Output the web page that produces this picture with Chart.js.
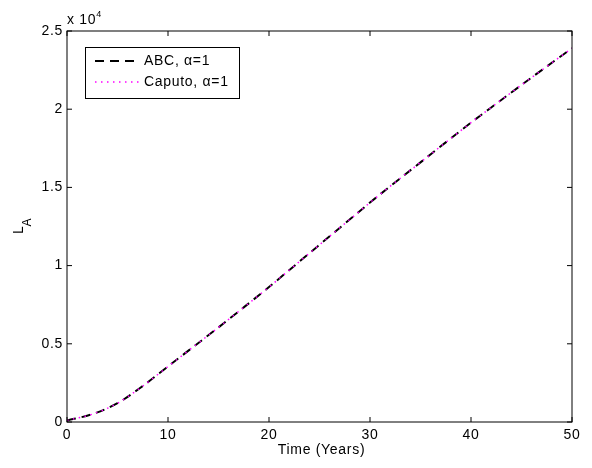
<!DOCTYPE html>
<html>
<head>
<meta charset="utf-8">
<script src="https://cdn.jsdelivr.net/npm/chart.js@4.4.0/dist/chart.umd.min.js"></script>
<style>
  html, body { margin: 0; padding: 0; background: #fff; }
</style>
</head>
<body>
<canvas id="chart" width="592" height="468"></canvas>
<script>
// data (L_A vs time)
const years = [0, 2.5, 5, 7.5, 10, 12.5, 15, 17.5, 20, 22.5, 25, 27.5, 30, 32.5, 35, 37.5, 40, 42.5, 45, 47.5, 50];
const abcLA = [100, 500, 1200, 2300, 3550, 4800, 6050, 7330, 8630, 9980, 11330, 12680, 14030, 15330, 16600, 17880, 19140, 20350, 21550, 22730, 23900];
const caputoLA = [100, 500, 1200, 2300, 3550, 4800, 6050, 7330, 8630, 9980, 11330, 12680, 14030, 15330, 16600, 17880, 19140, 20350, 21550, 22730, 23900];
const xTicks = [0, 10, 20, 30, 40, 50];
const yTicks = [0, 5000, 10000, 15000, 20000, 25000];
const seriesNames = ['ABC, \u03b1=1', 'Caputo, \u03b1=1'];

const FONT = 'Liberation Sans, Arial, Helvetica, sans-serif';
const SPACING = '0.7px';

function toPoints(xs, ys) {
  return xs.map((x, i) => ({ x: x, y: ys[i] }));
}

// box, inward ticks, axis titles, exponent and legend (MATLAB look)
const matlabFrame = {
  id: 'matlabFrame',
  beforeDraw(chart) {
    chart.ctx.letterSpacing = SPACING;
  },
  afterDraw(chart) {
    const ctx = chart.ctx;
    const a = chart.chartArea;
    const xs = chart.scales.x, ys = chart.scales.y;
    ctx.save();
    ctx.strokeStyle = '#000';
    ctx.lineWidth = 1;
    ctx.setLineDash([]);
    ctx.strokeRect(a.left, a.top, a.right - a.left, a.bottom - a.top);

    ctx.beginPath();
    xTicks.forEach(v => {
      const p = xs.getPixelForValue(v);
      ctx.moveTo(p, a.bottom); ctx.lineTo(p, a.bottom - 5);
      ctx.moveTo(p, a.top); ctx.lineTo(p, a.top + 5);
    });
    yTicks.forEach(v => {
      const p = ys.getPixelForValue(v);
      ctx.moveTo(a.left, p); ctx.lineTo(a.left + 5, p);
      ctx.moveTo(a.right, p); ctx.lineTo(a.right - 5, p);
    });
    ctx.stroke();

    ctx.fillStyle = '#000';
    ctx.letterSpacing = SPACING;

    // exponent label
    ctx.font = '14px ' + FONT;
    ctx.textAlign = 'left';
    ctx.textBaseline = 'alphabetic';
    ctx.fillText('x 10', a.left, 23.5);
    const w = ctx.measureText('x 10').width;
    ctx.font = '9px ' + FONT;
    ctx.fillText('4', a.left + w, 17);

    // x title
    ctx.font = '14px ' + FONT;
    ctx.textAlign = 'center';
    ctx.fillText('Time (Years)', (a.left + a.right) / 2 + 2, 453.5);

    // y title L_A
    ctx.save();
    ctx.translate(22.5, 234);
    ctx.rotate(-Math.PI / 2);
    ctx.textAlign = 'left';
    ctx.font = '14px ' + FONT;
    ctx.fillText('L', 0, 0);
    const lw = ctx.measureText('L').width;
    ctx.font = '12px ' + FONT;
    ctx.fillText('A', lw - 1, 8.5);
    ctx.restore();

    // legend
    const lx = 85.5, ly = 47.5, lwid = 154, lh = 51;
    ctx.fillStyle = '#fff';
    ctx.fillRect(lx, ly, lwid, lh);
    ctx.strokeStyle = '#000';
    ctx.lineWidth = 1;
    ctx.strokeRect(lx, ly, lwid, lh);

    const rows = [
      { y: 61, color: '#000', width: 2, dash: [9, 6] },
      { y: 82, color: '#ff00ff', width: 1.5, dash: [1.5, 4.5] }
    ];
    rows.forEach((r, i) => {
      ctx.beginPath();
      ctx.strokeStyle = r.color;
      ctx.lineWidth = r.width;
      ctx.setLineDash(r.dash);
      ctx.moveTo(95, r.y);
      ctx.lineTo(139, r.y);
      ctx.stroke();
      ctx.setLineDash([]);
      ctx.fillStyle = '#000';
      ctx.font = '14px ' + FONT;
      ctx.textAlign = 'left';
      ctx.textBaseline = 'middle';
      ctx.fillText(seriesNames[i], 144, r.y + 0.5);
    });
    ctx.restore();
  }
};

new Chart(document.getElementById('chart'), {
  type: 'line',
  data: {
    datasets: [
      {
        label: seriesNames[0],
        data: toPoints(years, abcLA),
        borderColor: '#000',
        borderWidth: 2,
        borderDash: [9, 6],
        pointRadius: 0,
        cubicInterpolationMode: 'monotone',
        fill: false,
        order: 1
      },
      {
        label: seriesNames[1],
        data: toPoints(years, caputoLA),
        borderColor: '#ff00ff',
        borderWidth: 1.5,
        borderDash: [1.5, 4.5],
        pointRadius: 0,
        cubicInterpolationMode: 'monotone',
        fill: false,
        order: 0
      }
    ]
  },
  options: {
    responsive: false,
    animation: false,
    devicePixelRatio: 1,
    layout: { padding: { top: 31, right: 20, left: 0, bottom: 0 } },
    plugins: { legend: { display: false }, tooltip: { enabled: false } },
    scales: {
      x: {
        type: 'linear',
        min: 0, max: 50,
        grid: { display: false, drawTicks: false },
        border: { display: false },
        afterBuildTicks: s => { s.ticks = xTicks.map(v => ({ value: v })); },
        afterFit: s => { s.height = 46; },
        ticks: { color: '#000', font: { family: FONT, size: 14 }, padding: 5, maxRotation: 0 }
      },
      y: {
        type: 'linear',
        min: 0, max: 25000,
        grid: { display: false, drawTicks: false },
        border: { display: false },
        afterBuildTicks: s => { s.ticks = yTicks.map(v => ({ value: v })); },
        afterFit: s => { s.width = 67; },
        ticks: {
          color: '#000', font: { family: FONT, size: 14 }, padding: 4,
          callback: v => String(v / 10000)
        }
      }
    }
  },
  plugins: [matlabFrame]
});
</script>
</body>
</html>
